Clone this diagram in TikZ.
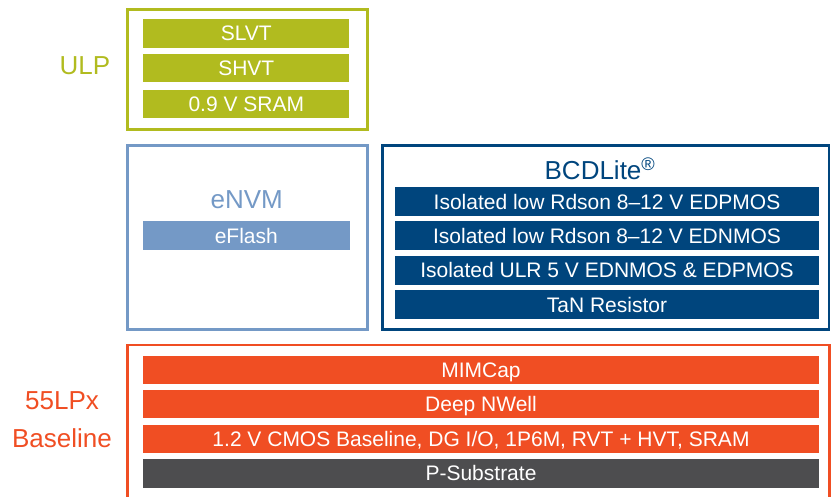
\documentclass[tikz,border=0pt]{standalone}
\usepackage{fontspec}
\setmainfont{Liberation Sans}
\usepackage{tikz}
\usetikzlibrary{positioning}
\definecolor{ulpC}{HTML}{B1BB1F}
\definecolor{nvmC}{HTML}{7499C6}
\definecolor{bcdC}{HTML}{00457D}
\definecolor{baseC}{HTML}{F04E23}
\definecolor{subC}{HTML}{4D4D4F}
\begin{document}
\begin{tikzpicture}[x=1pt,y=-1pt,
  frame/.style={draw,line width=2.5pt,minimum width=#1,inner sep=0pt},
  bar/.style={fill=#1,text=white,inner sep=0pt,minimum height=28.5pt,text height=15pt,text depth=0pt,font=\fontsize{21}{21}\selectfont},
  title/.style={font=\fontsize{26}{38}\selectfont,align=center}]
\useasboundingbox (0,0) rectangle (831,496);
% outer frames
\node[frame=240pt,draw=ulpC,minimum height=120pt] (ulp) at (247.5,69.5) {};
\node[frame=240pt,draw=nvmC,minimum height=184pt] (nvm) at (247.5,237.5) {};
\node[frame=446.5pt,draw=bcdC,minimum height=184pt] (bcd) at (605.75,237.5) {};
\node[frame=702pt,draw=baseC,minimum height=160pt] (base) at (478.5,425) {};
% ULP
\node[title,text=ulpC] (ulpT) at (85,66) {ULP};
\node[bar=ulpC,minimum width=206pt] (slvt) at (246.3,33.3) {SLVT};
\node[bar=ulpC,minimum width=206pt] (shvt) at (246.3,68.2) {SHVT};
\node[bar=ulpC,minimum width=206pt] (sram) at (246.3,104.2) {0.9 V SRAM};
% eNVM
\node[title,text=nvmC] (nvmT) at (246.7,200) {eNVM};
\node[bar=nvmC,minimum width=207pt] (flash) at (246.3,235.5) {eFlash};
% BCDLite
\node[title,text=bcdC] (bcdT) at (600,168.3) {BCDLite\textsuperscript{®}};
\node[bar=bcdC,minimum width=424pt] (edp) at (607,201.7) {Isolated low Rdson 8–12 V EDPMOS};
\node[bar=bcdC,minimum width=424pt] (edn) at (607,235.5) {Isolated low Rdson 8–12 V EDNMOS};
\node[bar=bcdC,minimum width=424pt] (ulr) at (607,270.3) {Isolated ULR 5 V EDNMOS \& EDPMOS};
\node[bar=bcdC,minimum width=424pt] (tan) at (607,304.5) {TaN Resistor};
% baseline
\node[title,text=baseC] (baseT) at (62,420) {55LPx\\Baseline};
\node[bar=baseC,minimum width=676pt] (mim) at (481,370) {MIMCap};
\node[bar=baseC,minimum width=676pt] (dnw) at (481,404.2) {Deep NWell};
\node[bar=baseC,minimum width=676pt] (cmos) at (481,439.2) {1.2 V CMOS Baseline, DG I/O, 1P6M, RVT + HVT, SRAM};
\node[bar=subC,minimum width=676pt] (psub) at (481,473.3) {P-Substrate};
\end{tikzpicture}
\end{document}
